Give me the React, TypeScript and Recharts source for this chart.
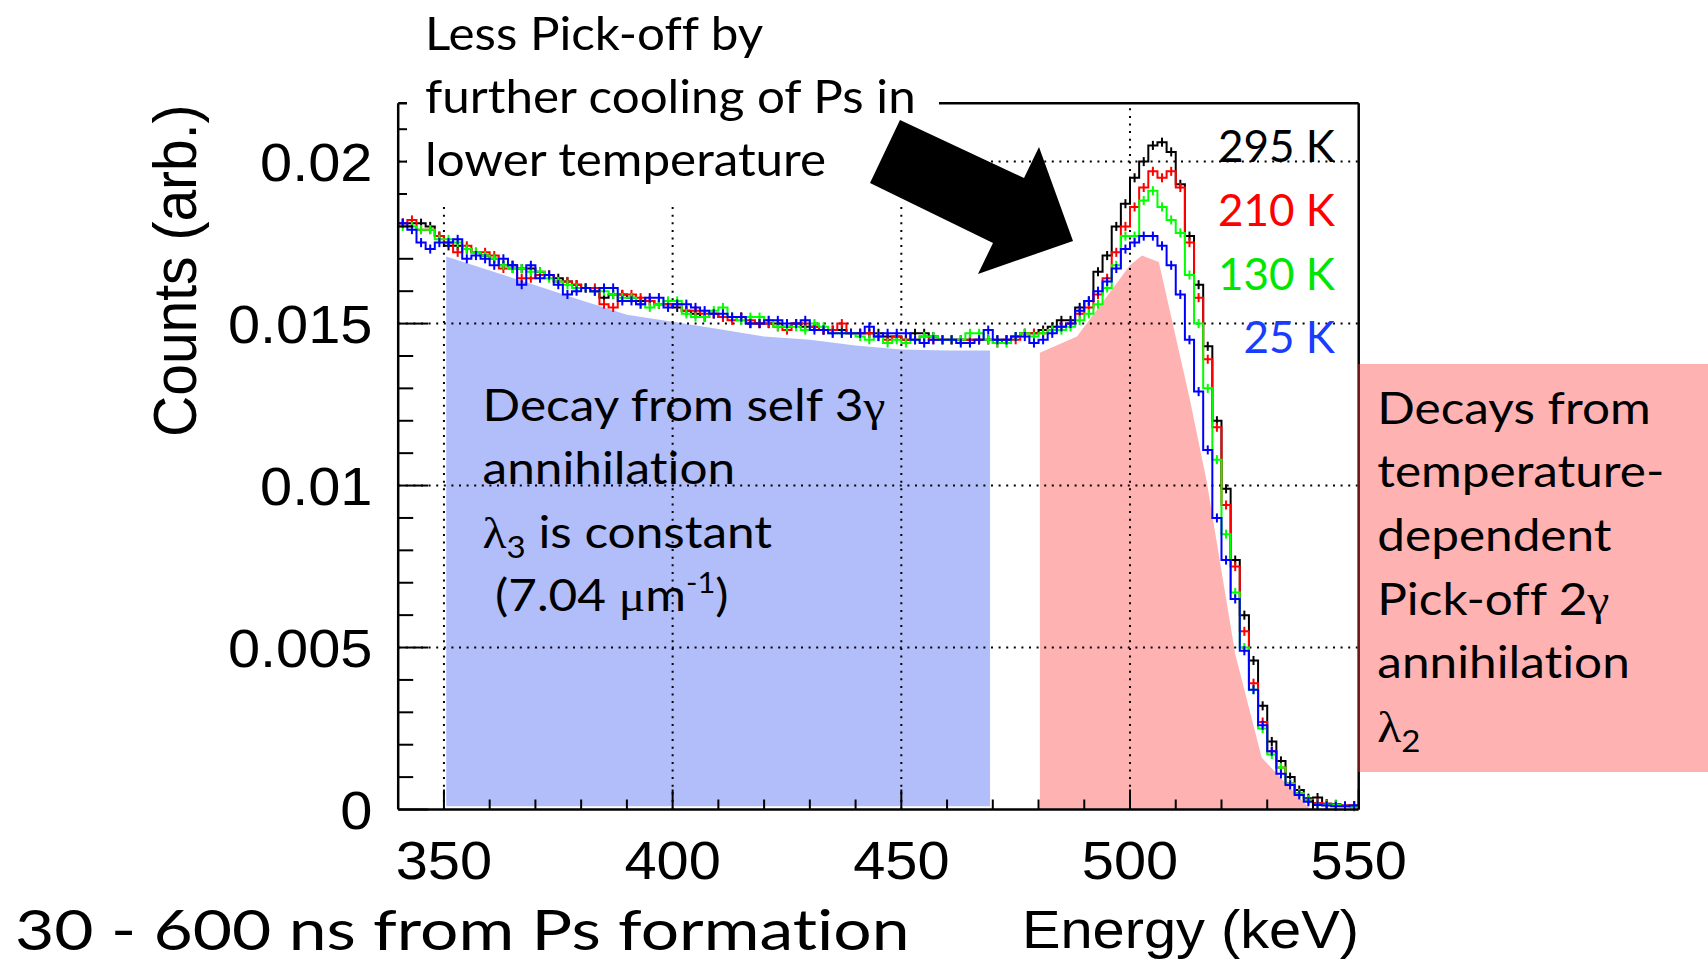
import React from 'react';
import { ComposedChart, Line, Area, XAxis, YAxis, ReferenceLine, ErrorBar } from 'recharts';

// ---------------- data ----------------
const X_MIN = 340;
const X_MAX = 550;
const Y_MAX = 0.0218;

const BIN_CENTERS = [
  341, 343, 345, 347, 349, 351, 353, 355, 357, 359,
  361, 363, 365, 367, 369, 371, 373, 375, 377, 379,
  381, 383, 385, 387, 389, 391, 393, 395, 397, 399,
  401, 403, 405, 407, 409, 411, 413, 415, 417, 419,
  421, 423, 425, 427, 429, 431, 433, 435, 437, 439,
  441, 443, 445, 447, 449, 451, 453, 455, 457, 459,
  461, 463, 465, 467, 469, 471, 473, 475, 477, 479,
  481, 483, 485, 487, 489, 491, 493, 495, 497, 499,
  501, 503, 505, 507, 509, 511, 513, 515, 517, 519,
  521, 523, 525, 527, 529, 531, 533, 535, 537, 539,
  541, 543, 545, 547, 549,
];

const K295 = [
  0.0181, 0.0181, 0.0181, 0.0180, 0.0177, 0.0174, 0.0174, 0.0173, 0.0172, 0.0171,
  0.0170, 0.0168, 0.0168, 0.0167, 0.0167, 0.0166, 0.0165, 0.0164, 0.0163, 0.0162,
  0.0161, 0.0160, 0.0158, 0.0159, 0.0159, 0.0158, 0.0157, 0.0157, 0.0156, 0.0156,
  0.0155, 0.0154, 0.0153, 0.0152, 0.0153, 0.0152, 0.0152, 0.0152, 0.0150, 0.0150,
  0.0150, 0.0150, 0.0149, 0.0150, 0.0149, 0.0149, 0.0148, 0.0148, 0.0148, 0.0147,
  0.0147, 0.0147, 0.0147, 0.0146, 0.0146, 0.0145, 0.0147, 0.0147, 0.0146, 0.0145,
  0.0145, 0.0145, 0.0145, 0.0145, 0.0145, 0.0145, 0.0145, 0.0146, 0.0147, 0.0147,
  0.0148, 0.0149, 0.0151, 0.0151, 0.0155, 0.0157, 0.0166, 0.0171, 0.0180, 0.0187,
  0.0195, 0.0200, 0.0205, 0.0206, 0.0203, 0.0193, 0.0177, 0.0162, 0.0143, 0.0120,
  0.0099, 0.0077, 0.0060, 0.0046, 0.0032, 0.0021, 0.0015, 0.0010, 0.0006, 0.00035,
  0.00037, 0.00018, 0.00016, 0.00012, 0.00012,
];

const K210 = [
  0.0181, 0.0182, 0.0179, 0.0179, 0.0177, 0.0175, 0.0172, 0.0174, 0.0172, 0.0172,
  0.0171, 0.0167, 0.0167, 0.0164, 0.0164, 0.0165, 0.0165, 0.0163, 0.0163, 0.0162,
  0.0161, 0.0161, 0.0156, 0.0155, 0.0159, 0.0159, 0.0158, 0.0157, 0.0156, 0.0156,
  0.0156, 0.0154, 0.0154, 0.0153, 0.0153, 0.0152, 0.0151, 0.0152, 0.0151, 0.0150,
  0.0150, 0.0149, 0.0148, 0.0150, 0.0150, 0.0149, 0.0148, 0.0148, 0.0150, 0.0147,
  0.0147, 0.0147, 0.0146, 0.0145, 0.0146, 0.0145, 0.0145, 0.0146, 0.0145, 0.0145,
  0.0145, 0.0145, 0.0145, 0.0145, 0.0145, 0.0144, 0.0145, 0.0145, 0.0147, 0.0147,
  0.0147, 0.0148, 0.0149, 0.0150, 0.0153, 0.0155, 0.0159, 0.0164, 0.0172, 0.0180,
  0.0186, 0.0192, 0.0197, 0.0195, 0.0197, 0.0192, 0.0175, 0.0158, 0.0139, 0.0118,
  0.0094, 0.0075, 0.0055, 0.0039, 0.0027, 0.0018, 0.0013, 0.0008, 0.0005, 0.0003,
  0.0002, 0.00018, 0.00012, 0.00012, 0.00012,
];

const K130 = [
  0.0180, 0.0180, 0.0179, 0.0179, 0.0176, 0.0176, 0.0175, 0.0173, 0.0172, 0.0171,
  0.0170, 0.0168, 0.0167, 0.0167, 0.0166, 0.0166, 0.0164, 0.0163, 0.0162, 0.0161,
  0.0161, 0.0160, 0.0160, 0.0159, 0.0158, 0.0158, 0.0156, 0.0155, 0.0156, 0.0157,
  0.0157, 0.0153, 0.0152, 0.0152, 0.0154, 0.0155, 0.0152, 0.0151, 0.0152, 0.0152,
  0.0151, 0.0149, 0.0149, 0.0149, 0.0148, 0.0150, 0.0149, 0.0147, 0.0147, 0.0147,
  0.0146, 0.0145, 0.0146, 0.0144, 0.0145, 0.0144, 0.0145, 0.0146, 0.0146, 0.0145,
  0.0145, 0.0145, 0.0147, 0.0147, 0.0145, 0.0144, 0.0144, 0.0146, 0.0147, 0.0146,
  0.0147, 0.0148, 0.0148, 0.0149, 0.0151, 0.0153, 0.0156, 0.0161, 0.0168, 0.0177,
  0.0177, 0.0188, 0.0191, 0.0186, 0.0182, 0.0178, 0.0165, 0.0150, 0.0130, 0.0108,
  0.0085, 0.0067, 0.0050, 0.0037, 0.0025, 0.0017, 0.0013, 0.0008, 0.0005, 0.0003,
  0.00014, 0.00014, 0.00015, 0.0001, 0.00008,
];

const K25 = [
  0.0181, 0.0179, 0.0175, 0.0173, 0.0175, 0.0175, 0.0176, 0.0170, 0.0171, 0.0170,
  0.0168, 0.0170, 0.0168, 0.0162, 0.0168, 0.0164, 0.0165, 0.0162, 0.0159, 0.0160,
  0.0161, 0.0160, 0.0161, 0.0161, 0.0157, 0.0157, 0.0156, 0.0158, 0.0158, 0.0155,
  0.0156, 0.0156, 0.0155, 0.0154, 0.0153, 0.0153, 0.0152, 0.0152, 0.0150, 0.0150,
  0.0151, 0.0151, 0.0150, 0.0150, 0.0151, 0.0148, 0.0148, 0.0147, 0.0147, 0.0147,
  0.0147, 0.0149, 0.0146, 0.0147, 0.0147, 0.0147, 0.0145, 0.0144, 0.0145, 0.0145,
  0.0145, 0.0144, 0.0144, 0.0145, 0.0148, 0.0145, 0.0145, 0.0146, 0.0146, 0.0144,
  0.0145, 0.0147, 0.0149, 0.0150, 0.0154, 0.0157, 0.0160, 0.0163, 0.0167, 0.0173,
  0.0175, 0.0177, 0.0177, 0.0174, 0.0168, 0.0159, 0.0145, 0.0129, 0.0111, 0.0090,
  0.0077, 0.0065, 0.0049, 0.0037, 0.0026, 0.0018, 0.0011, 0.00076, 0.00045, 0.00024,
  0.00014, 0.00012, 0.0001, 0.0001, 0.00012,
];

const BIN_ERROR = 0.00014;

// shaded regions
const SELF_E = [350.5, 360, 370, 380, 390, 400, 410, 420, 430, 440, 450, 460, 469.4];
const SELF_TOP = [0.01707, 0.01664, 0.01618, 0.01572, 0.01527, 0.01506, 0.01483, 0.0146, 0.0145, 0.01432, 0.0142, 0.01417, 0.01417];
const SELF_BOTTOM = 0.0001;

const PICKOFF_E = [480.3, 488.4, 494.2, 500, 502.6, 506.3, 513.1, 516.8, 523, 528.8, 539.5];
const PICKOFF_TOP = [0.0141, 0.0146, 0.0157, 0.0168, 0.0171, 0.0169, 0.01265, 0.0101, 0.0048, 0.0016, 0];

const X_MAJOR = [350, 400, 450, 500, 550];
const X_TICKS = [350, 360, 370, 380, 390, 400, 410, 420, 430, 440, 450, 460, 470, 480, 490, 500, 510, 520, 530, 540, 550];
const X_GRID = [350, 400, 450, 500];
const Y_MAJOR = [0, 0.005, 0.01, 0.015, 0.02];
const Y_TICKS = [0, 0.001, 0.002, 0.003, 0.004, 0.005, 0.006, 0.007, 0.008, 0.009, 0.01, 0.011, 0.012, 0.013, 0.014, 0.015, 0.016, 0.017, 0.018, 0.019, 0.02, 0.021];
const Y_GRID = [0.005, 0.01, 0.015, 0.02];

const SERIES = [
  { name: '295 K', values: K295, color: '#000000', label: '#000000' },
  { name: '210 K', values: K210, color: '#ff0000', label: '#ff0000' },
  { name: '130 K', values: K130, color: '#00ff00', label: '#00e600' },
  { name: '25 K', values: K25, color: '#0000ff', label: '#1a3cff' },
];

function histRows(values: number[]) {
  const rows = BIN_CENTERS.map((e, i) => ({ e, v: values[i], err: BIN_ERROR }));
  return [
    { e: X_MIN, v: values[0], err: 0 },
    ...rows,
    { e: X_MAX, v: values[values.length - 1], err: 0 },
  ];
}

const SELF_ROWS = SELF_E.map((e, i) => ({ e, range: [SELF_BOTTOM, SELF_TOP[i]] }));
const PICKOFF_ROWS = PICKOFF_E.map((e, i) => ({ e, v: PICKOFF_TOP[i] }));

// ---------------- layout ----------------
const W = 1708;
const H = 961;
const PLOT_LEFT = 398.2;
const PLOT_RIGHT = 1358.7;
const PLOT_TOP = 103.3;
const PLOT_BOTTOM = 809.5;
const X_LABEL_H = 60;
const Y_LABEL_W = 200;
const X_TICK_MARGIN = 31;
const Y_TICK_MARGIN = 25.7;

const ROOT_FONT = "'Liberation Sans', Arial, Helvetica, sans-serif";
const NOTE_FONT = "Lato, 'Open Sans', sans-serif";
const GREEK_FONT = "'Liberation Serif', 'DejaVu Serif', serif";
const ROOT_SX = 1.07;
const AXIS_STROKE = { stroke: '#000', strokeWidth: 2.5 };
const NO_LIGA = { fontVariantLigatures: 'none' as const, fontFeatureSettings: '"liga" 0' };

const XTick = (props: any) => {
  const { x, y, payload } = props;
  const axisY = y - X_TICK_MARGIN;
  const major = X_MAJOR.includes(payload.value);
  return (
    <g>
      <line x1={x} x2={x} y1={axisY} y2={axisY - (major ? 20 : 10)} stroke="#000" strokeWidth={2} />
      {major && (
        <text transform={`translate(${x},${y}) scale(${ROOT_SX},1)`} textAnchor="middle" dy="0.716em"
          fontFamily={ROOT_FONT} fontSize={54} fill="#000">{String(payload.value)}</text>
      )}
    </g>
  );
};

const YTick = (props: any) => {
  const { x, y, payload } = props;
  const axisX = x + Y_TICK_MARGIN;
  const major = Y_MAJOR.includes(payload.value);
  return (
    <g>
      <line x1={axisX} x2={axisX + (major ? 30 : 15)} y1={y} y2={y} stroke="#000" strokeWidth={2} />
      {major && (
        <text transform={`translate(${x},${y}) scale(${ROOT_SX},1)`} textAnchor="end" dy="0.355em"
          fontFamily={ROOT_FONT} fontSize={54} fill="#000">{String(payload.value)}</text>
      )}
    </g>
  );
};

const NOTE_SIZE = 45;
const NOTE_SX = 1.1;

const Note = ({ x, y, size = NOTE_SIZE, sx = NOTE_SX, fill = '#000', anchor = 'start', children }: any) => (
  <text transform={`translate(${x},${y}) scale(${sx},1)`} textAnchor={anchor} fontFamily={NOTE_FONT}
    fontSize={size} fill={fill} style={NO_LIGA}>{children}</text>
);

export default function App() {
  return (
    <div style={{ position: 'absolute', left: 0, top: 0, width: W, height: H, background: '#fff', overflow: 'hidden' }}>
      <ComposedChart
        width={W}
        height={H}
        margin={{ top: PLOT_TOP, right: W - PLOT_RIGHT, bottom: H - PLOT_BOTTOM - X_LABEL_H, left: PLOT_LEFT - Y_LABEL_W }}
      >
        <XAxis xAxisId="main" type="number" dataKey="e" domain={[X_MIN, X_MAX]} allowDataOverflow ticks={X_TICKS}
          interval={0} height={X_LABEL_H} tickSize={0} tickMargin={X_TICK_MARGIN} tickLine={false} axisLine={AXIS_STROKE} tick={XTick} />
        <YAxis yAxisId="main" type="number" domain={[0, Y_MAX]} allowDataOverflow ticks={Y_TICKS} interval={0}
          width={Y_LABEL_W} tickSize={0} tickMargin={Y_TICK_MARGIN} tickLine={false} axisLine={AXIS_STROKE} tick={YTick} />

        {X_GRID.map((x) => (
          <ReferenceLine key={`gx${x}`} x={x} xAxisId="main" yAxisId="main" stroke="#000" strokeWidth={2} strokeDasharray="2 5.6" />
        ))}
        {Y_GRID.map((y) => (
          <ReferenceLine key={`gy${y}`} y={y} xAxisId="main" yAxisId="main" stroke="#000" strokeWidth={2} strokeDasharray="2 5.6" />
        ))}
        {/* frame: top and right edges */}
        <ReferenceLine x={X_MAX} xAxisId="main" yAxisId="main" stroke="#000" strokeWidth={2.5} />
        <ReferenceLine y={Y_MAX} xAxisId="main" yAxisId="main" stroke="#000" strokeWidth={2.5} />

        {SERIES.map((s) => (
          <Line key={s.name} name={s.name} data={histRows(s.values)} dataKey="v" xAxisId="main" yAxisId="main"
            type="step" stroke={s.color} strokeWidth={2} dot={false} activeDot={false} isAnimationActive={false}>
            <ErrorBar dataKey="err" direction="y" width={0} stroke={s.color} strokeWidth={2} isAnimationActive={false} />
          </Line>
        ))}

        <Area data={SELF_ROWS} dataKey="range" xAxisId="main" yAxisId="main" type="linear"
          stroke="none" fill="rgb(62,92,242)" fillOpacity={0.4} isAnimationActive={false} />
        <Area data={PICKOFF_ROWS} dataKey="v" xAxisId="main" yAxisId="main" type="linear"
          stroke="none" fill="rgb(255,62,62)" fillOpacity={0.4} isAnimationActive={false} />
      </ComposedChart>

      <svg width={W} height={H} style={{ position: 'absolute', left: 0, top: 0, pointerEvents: 'none' }}>
        {/* annotation box covering the top-left of the frame */}
        <rect x={407} y={0} width={532} height={205} fill="#fff" />
        <Note x={425} y={50} size={47} sx={1.05}>Less Pick-off by</Note>
        <Note x={425} y={113} size={47} sx={1.05}>further cooling of Ps in</Note>
        <Note x={425} y={176} size={47} sx={1.05}>lower temperature</Note>
        <polygon points="900,120 1024,178 1039,147 1073,241 978,274 993,243 870,183" fill="#000" />

        {/* temperature legend */}
        {SERIES.map((s, i) => (
          <Note key={s.name} x={1335} y={161.7 + i * 63.9} size={44} sx={1} anchor="end" fill={s.label}>{s.name}</Note>
        ))}

        {/* self-annihilation note */}
        <Note x={482.6} y={420.5}>Decay from self 3<tspan fontFamily={GREEK_FONT}>γ</tspan></Note>
        <Note x={482.6} y={483.6}>annihilation</Note>
        <Note x={482.6} y={548}>
          <tspan fontFamily={GREEK_FONT}>λ</tspan>
          <tspan fontSize={30} dy={10}>3</tspan>
          <tspan dy={-10}> is constant</tspan>
        </Note>
        <Note x={495} y={611}>
          (7.04 <tspan fontFamily={GREEK_FONT}>μ</tspan>m
          <tspan fontSize={28} dy={-18}>-1</tspan>
          <tspan dy={18}>)</tspan>
        </Note>

        {/* pick-off box */}
        <rect x={1357} y={364} width={W - 1357} height={408} fill="rgb(255,62,62)" fillOpacity={0.4} />
        <Note x={1377.3} y={424}>Decays from</Note>
        <Note x={1377.3} y={487.3}>temperature-</Note>
        <Note x={1377.3} y={551}>dependent</Note>
        <Note x={1377.3} y={615}>Pick-off 2<tspan fontFamily={GREEK_FONT}>γ</tspan></Note>
        <Note x={1377.3} y={678.3}>annihilation</Note>
        <Note x={1377.3} y={741.7}>
          <tspan fontFamily={GREEK_FONT}>λ</tspan>
          <tspan fontSize={30} dy={10}>2</tspan>
        </Note>

        {/* axis titles */}
        <text transform={`translate(196,270.7) scale(${ROOT_SX},1) rotate(-90)`} textAnchor="middle"
          fontFamily={ROOT_FONT} fontSize={57} fill="#000">Counts (arb.)</text>
        <text transform={`translate(1359,947.7) scale(${ROOT_SX},1)`} textAnchor="end"
          fontFamily={ROOT_FONT} fontSize={54} fill="#000">Energy (keV)</text>

        <Note x={15} y={950} size={56} sx={1.21}>30 - 600 ns from Ps formation</Note>
      </svg>
    </div>
  );
}
